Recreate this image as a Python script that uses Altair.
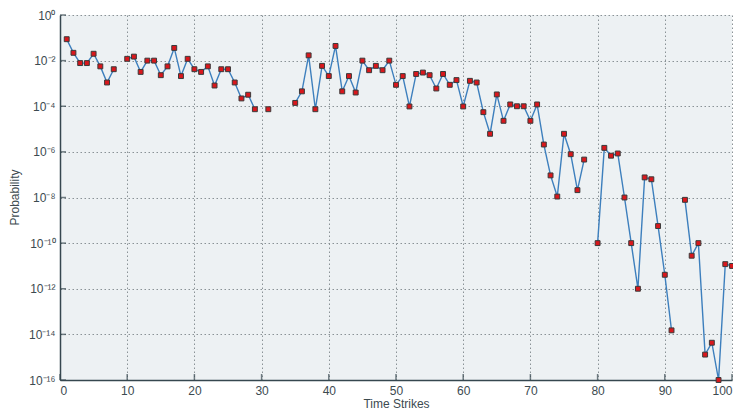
import altair as alt
import pandas as pd

# time strikes 1..100 ; None = no value drawn
strikes = list(range(1, 101))
probability = [
    8.7e-2, 2.2e-2, 7.8e-3, 7.8e-3, 2.0e-2, 5.6e-3, 1.1e-3, 4.2e-3, None, 1.2e-2,
    1.5e-2, 3.2e-3, 1.0e-2, 1.0e-2, 2.3e-3, 5.6e-3, 3.6e-2, 2.1e-3, 1.2e-2, 4.2e-3,
    3.2e-3, 5.6e-3, 8.1e-4, 4.2e-3, 4.2e-3, 1.1e-3, 2.2e-4, 3.2e-4, 7.4e-5, None,
    7.4e-5, None, None, None, 1.4e-4, 4.5e-4, 1.7e-2, 7.4e-5, 5.9e-3, 2.1e-3,
    4.4e-2, 4.5e-4, 2.1e-3, 4.0e-4, 1.0e-2, 3.8e-3, 5.9e-3, 3.8e-3, 1.0e-2, 8.7e-4,
    2.1e-3, 9.8e-5, 2.6e-3, 3.0e-3, 2.3e-3, 6.0e-4, 2.6e-3, 8.7e-4, 1.4e-3, 9.8e-5,
    1.3e-3, 1.1e-3, 5.5e-5, 6.2e-6, 3.3e-4, 2.3e-5, 1.2e-4, 1.0e-4, 1.0e-4, 2.3e-5,
    1.2e-4, 2.1e-6, 9.3e-8, 1.1e-8, 6.2e-6, 7.9e-7, 2.1e-8, 4.6e-7, None, 1.0e-10,
    1.5e-6, 6.8e-7, 8.5e-7, 1.0e-8, 1.0e-10, 1.0e-12, 7.6e-8, 6.3e-8, 5.6e-10, 4.1e-12,
    1.5e-14, None, 7.9e-9, 2.8e-11, 1.0e-10, 1.3e-15, 4.3e-15, 1.0e-16, 1.2e-11, 1.0e-11,
]

x_ticks = [0, 10, 20, 30, 40, 50, 60, 70, 80, 90, 100]
y_ticks = [1e0, 1e-2, 1e-4, 1e-6, 1e-8, 1e-10, 1e-12, 1e-14, 1e-16]
y_labels = ["10⁰", "10⁻²", "10⁻⁴", "10⁻⁶", "10⁻⁸", "10⁻¹⁰", "10⁻¹²", "10⁻¹⁴", "10⁻¹⁶"]
y_exps = [0, -2, -4, -6, -8, -10, -12, -14, -16]

# build table with segment ids so gaps break the line
rows = []
seg = 0
prev_missing = False
for t, p in zip(strikes, probability):
    if p is None:
        prev_missing = True
        continue
    if prev_missing:
        seg += 1
        prev_missing = False
    rows.append({"t": t, "p": p, "seg": seg})
df = pd.DataFrame(rows)

expr = "''"
for e, lab in zip(y_exps, y_labels):
    expr = f"(round(log(datum.value)/LN10) == {e}) ? '{lab}' : ({expr})"
label_expr = expr

W, H = 672, 365
FONT = "Liberation Sans"
TXT = "#3c4a50"

x_scale = alt.Scale(domain=[0, 100], nice=False, zero=False)
y_scale = alt.Scale(type="log", domain=[1e-16, 1], nice=False)

x_enc = alt.X("t:Q", scale=x_scale,
              axis=alt.Axis(values=x_ticks, title="Time Strikes", format="d",
                            ticks=False, tickSize=0, labelPadding=5,
                            titleX=W / 2, titleY=23, titleBaseline="middle",
                            titleAlign="center"))
y_enc = alt.Y("p:Q", scale=y_scale,
              axis=alt.Axis(values=y_ticks, title="Probability", labelExpr=label_expr,
                            ticks=False, tickSize=0, labelPadding=5,
                            titleX=-46, titleY=182, titleAngle=270,
                            titleBaseline="middle", titleAlign="center"))

base = alt.Chart(df)
line = base.mark_line(color="#3d7fbd", strokeWidth=1.4).encode(
    x=x_enc, y=y_enc, detail="seg:N"
)
pts = base.mark_square(size=24, filled=True, color="#d9171c", stroke="#3a3a3a",
                       strokeWidth=1, opacity=1).encode(
    x=alt.X("t:Q", scale=x_scale), y=alt.Y("p:Q", scale=y_scale)
)

ytick_df = pd.DataFrame({"p": y_ticks})
xtick_df = pd.DataFrame({"t": x_ticks})
yt = alt.Chart(ytick_df).mark_tick(orient="horizontal", size=6, thickness=1.5,
                                   color="#36474f").encode(
    y=alt.Y("p:Q", scale=y_scale), x=alt.value(3)
)
xt = alt.Chart(xtick_df).mark_tick(orient="vertical", size=6, thickness=1.5,
                                   color="#36474f").encode(
    x=alt.X("t:Q", scale=x_scale), y=alt.value(H - 3)
)

chart = alt.layer(yt, xt, line, pts).properties(
    width=W, height=H,
    autosize=alt.AutoSizeParams(type="none"),
    padding={"left": 52, "top": 7, "right": 1, "bottom": 31},
    background="white",
).configure_view(
    fill="#edf1f3", stroke=None
).configure_axis(
    grid=True, gridColor="#8a9296", gridDash=[1.5, 2.5], gridWidth=1, gridOpacity=1,
    domainColor="#36474f", domainWidth=1.5,
    labelFont=FONT, labelFontSize=12, labelColor=TXT,
    titleFont=FONT, titleFontSize=12, titleFontWeight="normal", titleColor=TXT,
)

chart.save("out.html", embed_options={"renderer": "svg", "actions": False})
